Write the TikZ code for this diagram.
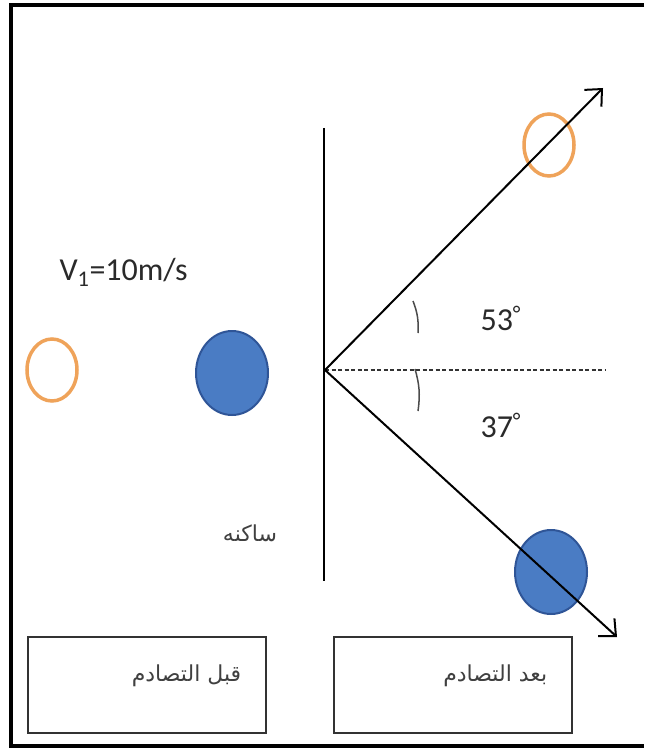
\documentclass[tikz,border=0pt]{standalone}
\usepackage{fontspec}
\setmainfont{Carlito}
\newfontfamily\arabicfont[Script=Arabic]{DejaVu Sans}
\TeXXeTstate=1
\usepackage{tikz}
\usetikzlibrary{shapes.geometric,arrows.meta}
\definecolor{ballblue}{HTML}{4A7CC4}
\definecolor{balledge}{HTML}{2F5597}
\definecolor{ringorange}{HTML}{EFA35A}
\definecolor{inkgray}{HTML}{2A2A2A}

\begin{document}
\begin{tikzpicture}[
        x=1pt, y=-1pt,
        ball/.style={ellipse,draw=balledge,line width=2pt,fill=ballblue,
            minimum width=72pt,minimum height=84pt,inner sep=0pt},
        ring/.style={ellipse,draw=ringorange,line width=3.5pt,
            minimum width=50pt,minimum height=62pt,inner sep=0pt},
        stagebox/.style={draw=black!80,line width=1.5pt,
            minimum width=238pt,minimum height=96pt},
        vec/.style={-{Straight Barb[length=13pt,width=24pt]},line width=2pt},
        latin/.style={text=inkgray,font=\fontsize{32}{38}\selectfont},
        arab/.style={text=black!75,font=\arabicfont\fontsize{22}{26}\selectfont},
        anglemark/.style={line width=1.5pt,black!70}
    ]
    \useasboundingbox (0,0) rectangle (646,751);
    % outer frame, open on the right
    \draw[line width=4pt] (644,5) -- (11,5) -- (11,746) -- (644,746);

    % before the collision
    \node[ring] (ringbefore) at (52,370) {};
    \node[ball] (ballbefore) at (232,373) {};
    \node[latin,anchor=west] (speed) at (56,272) {V\textsubscript{1}=10m/s};
    \node[arab] (atrest) at (250,533) {\beginR ساكنه\endR};

    % wall and paths
    \coordinate (walltop) at (324,128);
    \coordinate (wallbot) at (324,581);
    \coordinate (hit) at (325,370);
    \coordinate (axisend) at (606,370);
    \coordinate (tipup) at (603,88);
    \coordinate (tipdown) at (617,637);
    \draw[line width=2pt] (walltop) -- (wallbot);

    % after the collision
    \node[ring] (ringafter) at (549,145) {};
    \node[ball] (ballafter) at (551,572) {};
    \draw[dash pattern=on 4pt off 2.5pt,line width=1.6pt,black!80] (hit) -- (axisend);
    \draw[vec] (hit) -- (tipup);
    \draw[vec] (hit) -- (tipdown);
    \draw[anglemark] (413,301) to[bend left=12] (418,333);
    \draw[anglemark] (415,369) to[bend left=12] (418,411);
    \node[latin,anchor=west] (angleup) at (477,318) {53\textsuperscript{°}};
    \node[latin,anchor=west] (angledown) at (477,425) {37\textsuperscript{°}};

    % captions
    \node[stagebox] (boxbefore) at (147,685) {};
    \node[stagebox] (boxafter) at (453,685) {};
    \node[arab,anchor=east] (capbefore) at ([xshift=-22pt,yshift=9pt]boxbefore.east) {\beginR قبل التصادم\endR};
    \node[arab,anchor=east] (capafter) at ([xshift=-22pt,yshift=9pt]boxafter.east) {\beginR بعد التصادم\endR};
\end{tikzpicture}
\end{document}
